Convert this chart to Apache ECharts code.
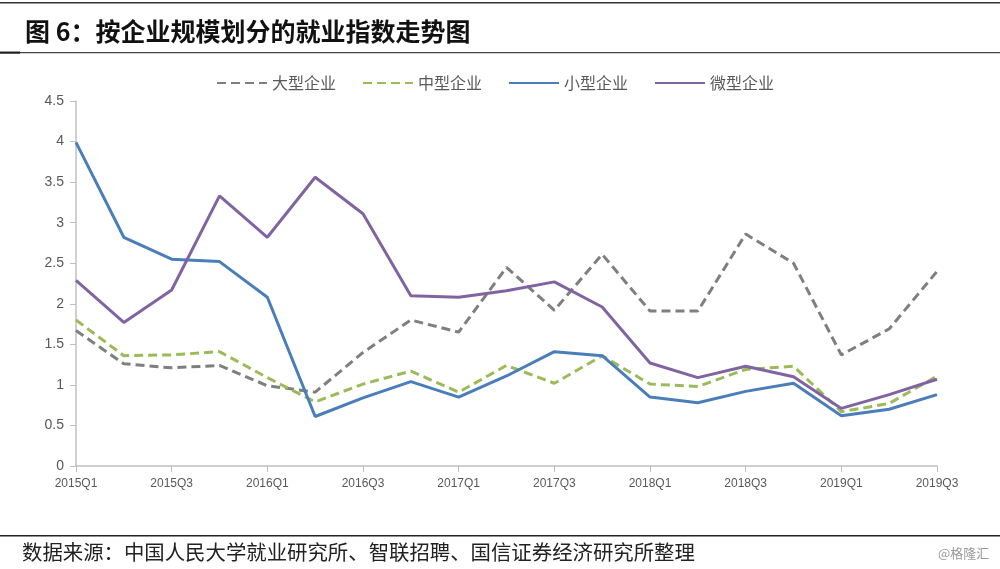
<!DOCTYPE html>
<html><head><meta charset="utf-8">
<script src="https://cdn.jsdelivr.net/npm/echarts@6/dist/echarts.min.js"></script>
<style>html,body{margin:0;padding:0;background:#fff}#c{width:1000px;height:569px}</style>
</head><body><div id="c"></div>
<script>
const categories = ['2015Q1','2015Q2','2015Q3','2015Q4','2016Q1','2016Q2','2016Q3','2016Q4','2017Q1','2017Q2','2017Q3','2017Q4','2018Q1','2018Q2','2018Q3','2018Q4','2019Q1','2019Q2','2019Q3'];
const large  = [1.67,1.26,1.21,1.24,0.99,0.91,1.40,1.80,1.65,2.45,1.92,2.61,1.91,1.91,2.86,2.50,1.37,1.69,2.40];
const medium = [1.80,1.36,1.37,1.41,1.09,0.79,1.01,1.17,0.91,1.24,1.02,1.36,1.01,0.98,1.19,1.23,0.67,0.77,1.11];
const small  = [3.99,2.82,2.55,2.52,2.08,0.61,0.84,1.04,0.85,1.11,1.41,1.36,0.85,0.78,0.92,1.02,0.62,0.70,0.88];
const micro  = [2.29,1.77,2.17,3.33,2.82,3.56,3.11,2.10,2.08,2.16,2.27,1.96,1.27,1.09,1.23,1.10,0.71,0.88,1.07];
const seriesNames = ['大型企业','中型企业','小型企业','微型企业'];
const yTicks = ['0','0.5','1','1.5','2','2.5','3','3.5','4','4.5'];

const chart = echarts.init(document.getElementById('c'));
const cjk = '"Noto Sans CJK SC", sans-serif';
function mk(name, data, color, dashed){
  return {name, type:'line', data, showSymbol:false, symbol:'none', smooth:false,
    lineStyle:{color, width:3, type: dashed ? [9,5] : 'solid'}, itemStyle:{color}};
}
chart.setOption({
  animation:false,
  title:{text:'图 6：按企业规模划分的就业指数走势图', left:20, top:14,
    textStyle:{fontFamily:cjk, fontWeight:'bold', fontSize:25, color:'#111'}},
  legend:{top:70, left:211, itemWidth:50, itemHeight:10, itemGap:26,
    itemStyle:{opacity:0},
    textStyle:{fontFamily:cjk, fontSize:16, color:'#595959'},
    data:seriesNames},
  grid:{left:76, right:63, top:101, bottom:103},
  xAxis:{type:'category', data:categories, boundaryGap:false,
    axisLine:{lineStyle:{color:'#bfbfbf', width:1.5}},
    axisTick:{interval:1, length:6, lineStyle:{color:'#bfbfbf'}},
    axisLabel:{interval:1, color:'#595959', fontSize:12, margin:12, fontFamily:'"Liberation Sans", sans-serif'}},
  yAxis:{type:'value', min:0, max:4.5, interval:0.5,
    axisLine:{show:true, lineStyle:{color:'#bfbfbf', width:1.5}},
    axisTick:{show:true, length:6, lineStyle:{color:'#bfbfbf'}},
    splitLine:{show:false},
    axisLabel:{color:'#595959', fontSize:14, margin:12, fontFamily:'"Liberation Sans", sans-serif',
      formatter:(v)=>yTicks[Math.round(v*2)]}},
  graphic:[
    {type:'rect', shape:{x:0,y:2,width:1000,height:1.5}, style:{fill:'#333'}},
    {type:'rect', shape:{x:0,y:52,width:1000,height:1.2}, style:{fill:'#444'}},
    {type:'rect', shape:{x:0,y:51.5,width:20,height:2.2}, style:{fill:'#222'}},
    {type:'rect', shape:{x:0,y:535,width:1000,height:1.5}, style:{fill:'#222'}},
    {type:'text', left:22, top:542, style:{text:'数据来源：中国人民大学就业研究所、智联招聘、国信证券经济研究所整理',
      font:'20.4px "Noto Sans CJK SC", sans-serif', fill:'#222'}},
    {type:'text', left:938, top:547, style:{text:'@格隆汇', font:'13px "Noto Sans CJK SC", sans-serif', fill:'#999'}}
  ],
  series:[
    mk(seriesNames[0], large, '#7f7f7f', true),
    mk(seriesNames[1], medium, '#9bbb59', true),
    mk(seriesNames[2], small, '#4a7ebb', false),
    mk(seriesNames[3], micro, '#8064a2', false)
  ]
});
</script></body></html>
